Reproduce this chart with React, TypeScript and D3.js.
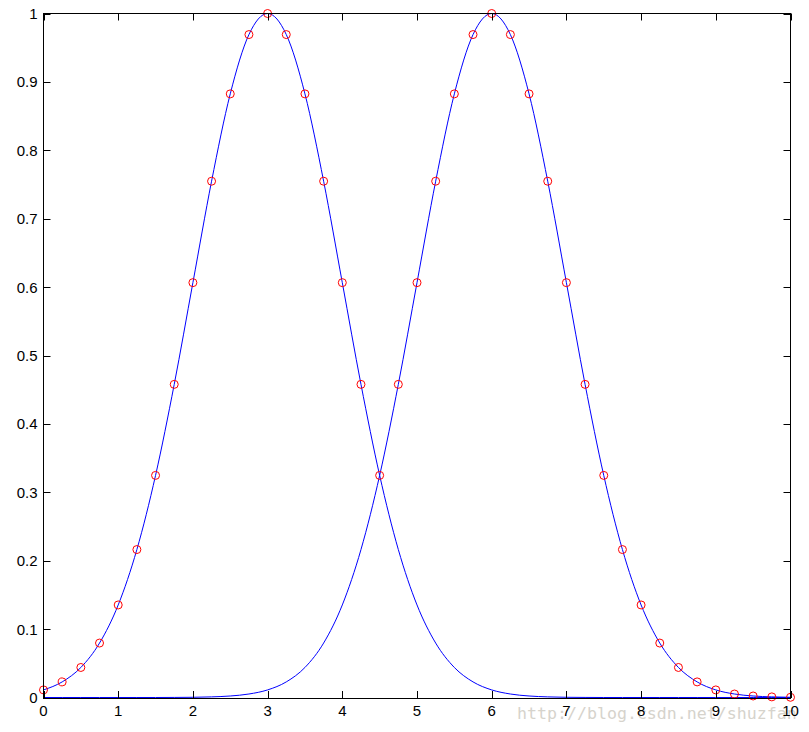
import React from "react";
import * as d3 from "d3";

const xValues = [0, 0.25, 0.5, 0.75, 1, 1.25, 1.5, 1.75, 2, 2.25, 2.5, 2.75, 3, 3.25, 3.5, 3.75, 4, 4.25, 4.5, 4.75, 5, 5.25, 5.5, 5.75, 6, 6.25, 6.5, 6.75, 7, 7.25, 7.5, 7.75, 8, 8.25, 8.5, 8.75, 9, 9.25, 9.5, 9.75, 10];

const curveA = [0.0111, 0.0228, 0.0439, 0.0796, 0.1353, 0.2163, 0.3247, 0.4578, 0.6065, 0.7548, 0.8825, 0.9692, 1, 0.9692, 0.8825, 0.7548, 0.6065, 0.4578, 0.3247, 0.2163, 0.1353, 0.0796, 0.0439, 0.0228, 0.0111, 0.0051, 0.0022, 0.0009, 0.0003, 0.0001, 0, 0, 0, 0, 0, 0, 0, 0, 0, 0, 0];

const curveB = [0, 0, 0, 0, 0, 0, 0, 0.0001, 0.0003, 0.0009, 0.0022, 0.0051, 0.0111, 0.0228, 0.0439, 0.0796, 0.1353, 0.2163, 0.3247, 0.4578, 0.6065, 0.7548, 0.8825, 0.9692, 1, 0.9692, 0.8825, 0.7548, 0.6065, 0.4578, 0.3247, 0.2163, 0.1353, 0.0796, 0.0439, 0.0228, 0.0111, 0.0051, 0.0022, 0.0009, 0.0003];

const markerValues = [0.0111, 0.0228, 0.0439, 0.0796, 0.1353, 0.2163, 0.3247, 0.4578, 0.6065, 0.7548, 0.8825, 0.9692, 1, 0.9692, 0.8825, 0.7548, 0.6065, 0.4578, 0.3247, 0.4578, 0.6065, 0.7548, 0.8825, 0.9692, 1, 0.9692, 0.8825, 0.7548, 0.6065, 0.4578, 0.3247, 0.2163, 0.1353, 0.0796, 0.0439, 0.0228, 0.0111, 0.0051, 0.0022, 0.0009, 0.0003];

const xTicks = [0, 1, 2, 3, 4, 5, 6, 7, 8, 9, 10];
const yTicks = [0, 0.1, 0.2, 0.3, 0.4, 0.5, 0.6, 0.7, 0.8, 0.9, 1];
const yTickLabels = ["0", "0.1", "0.2", "0.3", "0.4", "0.5", "0.6", "0.7", "0.8", "0.9", "1"];

const watermark = "http://blog.csdn.net/shuzfan";

export default function App() {
  const W = 809, H = 732;
  const L = 43.5, R = 790.5, T = 13.5, B = 698;
  const x = d3.scaleLinear().domain([0, 10]).range([L, R]);
  const y = d3.scaleLinear().domain([0, 1]).range([B - 0.5, T]);
  const line = d3
    .line<number>()
    .x((_, i) => x(xValues[i]))
    .y((v) => y(v))
    .curve(d3.curveMonotoneX);
  const tl = 7;
  const font = "'Liberation Sans', Arial, sans-serif";
  return (
    <svg width={W} height={H} style={{ position: "absolute", left: 0, top: 0, background: "#fff" }}>
      <rect x={0} y={0} width={W} height={H} fill="#fff" />
      <text x={517} y={719} fill="#d6d3cc" fontFamily="'DejaVu Sans Mono', monospace" fontSize={16.6}>
        {watermark}
      </text>
      <path d={line(curveA) || ""} fill="none" stroke="#0000ff" strokeWidth={1} />
      <path d={line(curveB) || ""} fill="none" stroke="#0000ff" strokeWidth={1} />
      {markerValues.map((v, i) => (
        <circle key={i} cx={x(xValues[i])} cy={y(v)} r={4} fill="none" stroke="#ff0000" strokeWidth={1} />
      ))}
      <rect x={L} y={T} width={R - L} height={B + 0.5 - T} fill="none" stroke="#000" strokeWidth={1} />
      {xTicks.map((t) => (
        <g key={"x" + t}>
          <line x1={Math.round(x(t)) + 0.5} x2={Math.round(x(t)) + 0.5} y1={B} y2={B - tl} stroke="#000" />
          <line x1={Math.round(x(t)) + 0.5} x2={Math.round(x(t)) + 0.5} y1={T} y2={T + tl} stroke="#000" />
          <text x={x(t)} y={716} textAnchor="middle" fontFamily={font} fontSize={15} fill="#000">
            {String(t)}
          </text>
        </g>
      ))}
      {yTicks.map((t, i) => (
        <g key={"y" + t}>
          <line x1={L} x2={L + tl} y1={Math.round(y(t)) + 0.5} y2={Math.round(y(t)) + 0.5} stroke="#000" />
          <line x1={R} x2={R - tl} y1={Math.round(y(t)) + 0.5} y2={Math.round(y(t)) + 0.5} stroke="#000" />
          <text x={37.5} y={y(t)} dy="0.36em" textAnchor="end" fontFamily={font} fontSize={15} fill="#000">
            {yTickLabels[i]}
          </text>
        </g>
      ))}
    </svg>
  );
}
